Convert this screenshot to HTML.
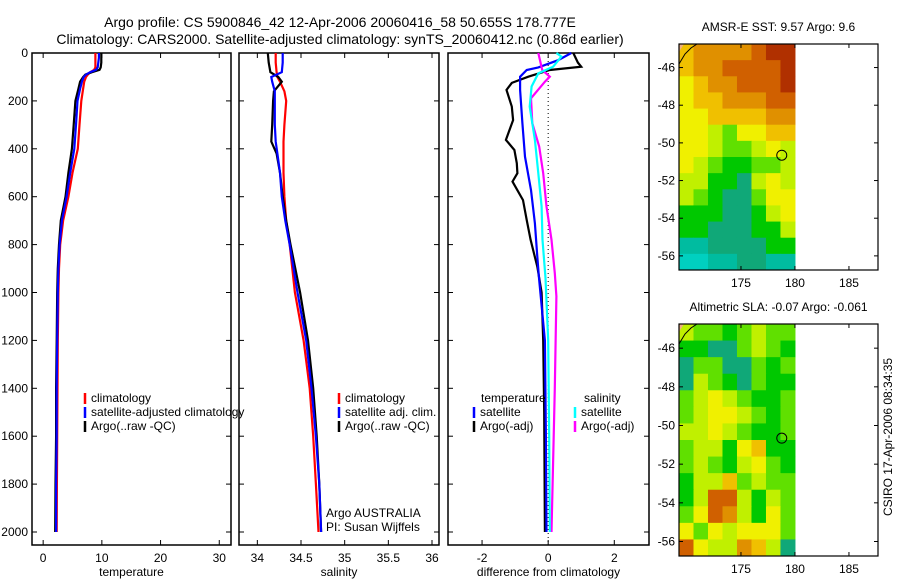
<!DOCTYPE html>
<html><head><meta charset="utf-8">
<style>
html,body{margin:0;padding:0;background:#fff;}
svg{display:block;font-family:"Liberation Sans",sans-serif;}
</style></head>
<body>
<svg id="fig" width="900" height="580" viewBox="0 0 900 580" xmlns="http://www.w3.org/2000/svg">
<text x="340" y="27" font-size="14" text-anchor="middle">Argo profile: CS 5900846_42 12-Apr-2006 20060416_58 50.655S 178.777E</text>
<text x="340" y="44" font-size="14" text-anchor="middle">Climatology: CARS2000. Satellite-adjusted climatology: synTS_20060412.nc (0.86d earlier)</text>
<g id="g"></g>
</svg>
<script>
// ---- Temperature panel data ----
const depthT = [0,20,40,60,70,80,90,100,120,150,200,300,400,500,600,700,800,900,1000,1200,1400,1600,1800,2000];
const argoT = [9.9,9.9,9.9,9.8,9.6,8.3,7.2,6.8,6.3,6.0,5.5,5.2,4.9,4.3,3.8,3.0,2.7,2.5,2.4,2.3,2.2,2.2,2.1,2.05];
const satT  = [9.5,9.5,9.4,9.3,9.0,8.0,7.3,6.9,6.6,6.3,5.85,5.6,5.3,4.6,4.0,3.2,2.8,2.6,2.5,2.4,2.3,2.3,2.2,2.2];
const climT = [8.9,8.9,8.9,8.9,8.7,8.0,7.6,7.3,7.0,6.8,6.5,6.2,5.9,5.0,4.3,3.4,2.9,2.7,2.6,2.5,2.45,2.4,2.35,2.3];
// ---- Salinity panel data ----
const depthS = [0,40,80,100,120,160,200,300,370,420,500,600,700,800,1000,1200,1400,1600,1800,2000];
const argoS = [34.12,34.13,34.15,34.24,34.28,34.19,34.18,34.17,34.16,34.22,34.26,34.29,34.33,34.38,34.49,34.58,34.64,34.68,34.71,34.73];
const satS  = [34.29,34.29,34.28,34.16,34.17,34.20,34.20,34.20,34.21,34.23,34.26,34.28,34.32,34.37,34.46,34.56,34.62,34.67,34.71,34.73];
const climS = [34.21,34.21,34.22,34.23,34.26,34.31,34.33,34.31,34.30,34.30,34.30,34.31,34.33,34.37,34.43,34.53,34.60,34.64,34.67,34.70];
// ---- Difference panel data ----
const depthDiffArgoT = [0,40,57,71,99,125,154,224,280,363,405,460,502,537,614,697,780,864,892,1000,1200,1500,2000];
const diffArgoT = [0.76,0.9,1.0,0.05,-0.6,-1.1,-1.26,-1.1,-1.06,-1.28,-1.02,-0.95,-0.93,-1.08,-0.76,-0.65,-0.53,-0.38,-0.33,-0.2,-0.15,-0.12,-0.1];
const depthDiffSatT = [0,30,60,71,99,154,293,433,572,711,850,935,1200,1600,2000];
const diffSatT = [0.7,0.3,-0.3,-0.65,-0.85,-0.85,-0.78,-0.7,-0.52,-0.4,-0.33,-0.28,-0.1,-0.07,-0.05];
const depthDiffArgoS = [0,29,71,99,120,189,293,391,502,641,780,919,1016,1400,2000];
const diffArgoS = [-0.3,-0.25,-0.18,0.05,-0.1,-0.52,-0.48,-0.27,-0.15,-0.05,0.1,0.2,0.25,0.2,0.1];
const depthDiffSatS = [0,15,57,85,140,224,363,502,641,780,940,1200,1600,2000];
const diffSatS = [0.25,0.4,0.15,-0.3,-0.5,-0.56,-0.4,-0.3,-0.2,-0.17,-0.08,0.0,0.03,0.05];
// ---- Ticks ----
const depthTicks = [0,200,400,600,800,1000,1200,1400,1600,1800,2000];
const tempTicks = [0,10,20,30];
const salTicks = [34,34.5,35,35.5,36];
const diffTicks = [-2,0,2];
const latTicks = [-46,-48,-50,-52,-54,-56];
const lonTicks = [175,180,185];
// ---- Map grids (colour class 0..10) ----
const sstGrid = [
[7,8,8,8,8,9,10,10],[7,8,8,9,9,9,9,10],[6,7,8,8,9,9,9,10],[6,7,7,8,8,8,9,9],
[6,6,7,7,7,7,8,8],[6,6,5,4,6,6,7,7],[6,6,5,4,4,5,6,5],[6,5,4,3,3,4,4,5],
[5,5,3,3,2,5,6,5],[5,4,3,2,2,4,6,6],[3,3,3,2,2,3,5,6],[3,3,2,2,2,3,3,5],
[1,1,2,2,2,2,3,3],[0,0,1,1,2,2,1,1]];
const slaGrid = [
[5,4,4,3,4,5,4,4],[3,3,2,2,4,5,4,3],[2,4,4,2,2,4,3,4],[2,5,4,3,2,4,3,3],
[4,5,6,5,4,3,3,4],[4,5,6,6,5,4,3,4],[5,5,6,5,4,3,3,4],[4,5,5,3,6,7,3,3],
[4,5,4,3,5,6,4,3],[3,5,5,7,4,5,4,4],[3,5,9,9,5,3,5,4],[4,6,9,8,5,3,6,4],
[6,4,6,5,6,6,6,4],[9,6,5,5,8,7,5,2]];
const palette = ["#00d0c0","#00bca0","#10a878","#00c800","#60e000","#c0f000","#f0f000","#f0c000","#e09000","#d06000","#b03000"];
const argoLon = 178.777, argoLat = -50.655;

const NS="http://www.w3.org/2000/svg";
const G=document.getElementById('g');
function mk(tag,attrs,parent){const e=document.createElementNS(NS,tag);for(const k in attrs)e.setAttribute(k,attrs[k]);(parent||G).appendChild(e);return e;}
function txt(x,y,s,size,anchor,parent){const t=mk('text',{x:x,y:y,'font-size':size,'text-anchor':anchor||'start'},parent);t.textContent=s;return t;}

const Y0=53, Y1=545, dPerPx=0.2395;
function yD(d){return Y0+d*dPerPx;}

function panel(name,x0,x1,vmin,vmax,xticks,fmt,xlabel){
  const g=mk('g',{});
  
  
  const sx=v=>x0+(v-vmin)/(vmax-vmin)*(x1-x0);
  const r=mk('rect',{x:x0,y:Y0,width:x1-x0,height:Y1-Y0,fill:'none',stroke:'#000','stroke-width':1.5},g);
  
  
  depthTicks.forEach(d=>{
    const y=yD(d);
    mk('line',{x1:x0,x2:x0+5,y1:y,y2:y,stroke:'#000'},g);
    mk('line',{x1:x1-5,x2:x1,y1:y,y2:y,stroke:'#000'},g);
  });
  xticks.forEach(v=>{
    const x=sx(v);
    mk('line',{x1:x,x2:x,y1:Y0,y2:Y0+5,stroke:'#000'},g);
    mk('line',{x1:x,x2:x,y1:Y1-5,y2:Y1,stroke:'#000'},g);
    const t=txt(x,562,fmt(v),12,'middle',g);
    
    
  });
  const l=txt((x0+x1)/2,576,xlabel,12,'middle',g);
  
  
  return {g,sx};
}
function line(p,depths,vals,color,name){
  const pts=depths.map((d,i)=>p.sx(vals[i]).toFixed(1)+','+yD(d).toFixed(1)).join(' ');
  const e=mk('polyline',{points:pts,fill:'none',stroke:color,'stroke-width':2.2},p.g);
  
  
}
function legend(p,x,y,color,label,name){
  mk('line',{x1:x,x2:x,y1:y-9,y2:y+2,stroke:color,'stroke-width':2.5},p.g);
  const t=txt(x+6,y,label,12,'start',p.g);
  
  
}

// y tick labels
depthTicks.forEach(d=>{
  const t=txt(28,yD(d)+4,String(d),12,'end');
  
  
});

const pT=panel('temperature-panel',32,231,-1.9,32.0,tempTicks,v=>String(v),'temperature');
line(pT,depthT,climT,'#ff0000','temp-climatology-line');
line(pT,depthT,argoT,'#000000','temp-argo-line');
line(pT,depthT,satT,'#0000ff','temp-satellite-line');
legend(pT,85,402,'#ff0000','climatology','legend-climatology');
legend(pT,85,416,'#0000ff','satellite-adjusted climatology','legend-satellite');
legend(pT,85,430,'#000000','Argo(..raw -QC)','legend-argo');

const pS=panel('salinity-panel',239,439,33.79,36.08,salTicks,v=>String(v),'salinity');
line(pS,depthS,climS,'#ff0000','sal-climatology-line');
line(pS,depthS,argoS,'#000000','sal-argo-line');
line(pS,depthS,satS,'#0000ff','sal-satellite-line');
legend(pS,339,402,'#ff0000','climatology','legend-climatology');
legend(pS,339,416,'#0000ff','satellite adj. clim.','legend-satellite');
legend(pS,339,430,'#000000','Argo(..raw -QC)','legend-argo');
const a1=txt(326,517,'Argo AUSTRALIA',12,'start',pS.g);


const a2=txt(326,531,'PI: Susan Wijffels',12,'start',pS.g);



const pD=panel('difference-panel',448,649,-3.03,3.05,diffTicks,v=>String(v),'difference from climatology');
mk('line',{x1:pD.sx(0),x2:pD.sx(0),y1:Y0,y2:Y1,stroke:'#000','stroke-dasharray':'1,3'},pD.g);
line(pD,depthDiffArgoT,diffArgoT,'#000000','diff-argo-temp-line');
line(pD,depthDiffSatT,diffSatT,'#0000ff','diff-sat-temp-line');
line(pD,depthDiffArgoS,diffArgoS,'#ff00ff','diff-argo-sal-line');
line(pD,depthDiffSatS,diffSatS,'#00ffff','diff-sat-sal-line');
const lt=txt(481,402,'temperature',12,'start',pD.g);


const ls=txt(584,402,'salinity',12,'start',pD.g);


legend(pD,474,416,'#0000ff','satellite','legend-temp-satellite');
legend(pD,474,430,'#000000','Argo(-adj)','legend-temp-argo');
legend(pD,575,416,'#00ffff','satellite','legend-sal-satellite');
legend(pD,575,430,'#ff00ff','Argo(-adj)','legend-sal-argo');

// ---- maps ----
function map(name,top,bottom,grid,title){
  const g=mk('g',{});
  
  
  const x0=679,x1=878;
  const lonMin=169.26,lonMax=187.69;
  const sx=l=>x0+(l-lonMin)/(lonMax-lonMin)*(x1-x0);
  const latTop=-44.75, latBot=-56.75;
  const sy=la=>top+(latTop-la)/(latTop-latBot)*(bottom-top);
  const ix1=sx(180), rows=grid.length, cols=grid[0].length;
  const cw=(ix1-x0)/cols, ch=(bottom-top)/rows;
  grid.forEach((row,r)=>row.forEach((v,c)=>{
    const cell=mk('rect',{x:x0+c*cw,y:top+r*ch,width:cw+0.5,height:ch+0.5,fill:palette[v]},g);
    
    
  }));
  // coast
  mk('path',{d:`M${x0} ${top+20} L${x0+6} ${top+10} L${x0+12} ${top+4} L${x0+18} ${top}`,stroke:'#000',fill:'none','stroke-width':1},g);
  mk('path',{d:`M${x0} ${top} L${x0+5} ${top} L${x0} ${top+8}Z`,fill:'#f0b080'},g);
  const c=mk('circle',{cx:sx(argoLon),cy:sy(argoLat),r:5,fill:'none',stroke:'#000','stroke-width':1},g);
  
  
  const fr=mk('rect',{x:x0,y:top,width:x1-x0,height:bottom-top,fill:'none',stroke:'#000','stroke-width':1.2},g);
  
  
  latTicks.forEach(la=>{
    const y=sy(la);
    mk('line',{x1:x0,x2:x0+4,y1:y,y2:y,stroke:'#000'},g);
    mk('line',{x1:x1-4,x2:x1,y1:y,y2:y,stroke:'#000'},g);
    const t=txt(x0-4,y+4,String(la),12,'end',g);
    
    
  });
  lonTicks.forEach(lo=>{
    const x=sx(lo);
    mk('line',{x1:x,x2:x,y1:top,y2:top+4,stroke:'#000'},g);
    mk('line',{x1:x,x2:x,y1:bottom-4,y2:bottom,stroke:'#000'},g);
    const t=txt(x,bottom+17,String(lo),12,'middle',g);
    
    
  });
  const tt=txt((x0+x1)/2,top-13,title,12,'middle',g);
  
  
}
map('sst-map',44,270,sstGrid,'AMSR-E SST: 9.57 Argo: 9.6');
map('sla-map',324,556,slaGrid,'Altimetric SLA: -0.07 Argo: -0.061');
const cs=txt(0,0,'CSIRO 17-Apr-2006 08:34:35',12,'middle');
cs.setAttribute('transform','translate(892,437) rotate(-90)');


</script>
</body></html>
